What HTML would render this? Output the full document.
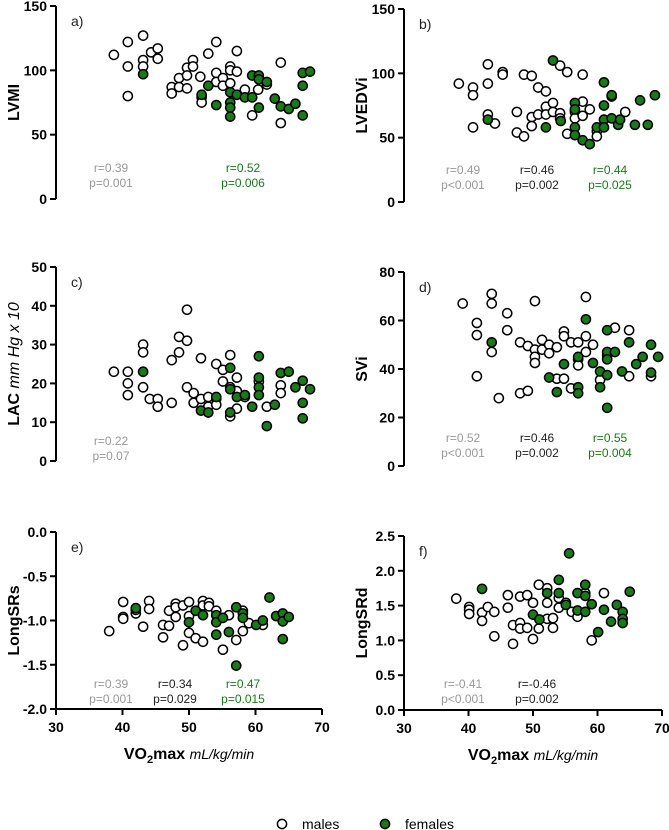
<!DOCTYPE html>
<html><head><meta charset="utf-8"><style>
body{margin:0;background:#fff;}
svg{display:block;font-family:"Liberation Sans",Arial,sans-serif;}
.tk{font-size:14px;font-weight:bold;fill:#000;}
.yt{font-size:16px;font-weight:bold;fill:#000;}
.pl{font-size:14px;fill:#222;}
.st{font-size:12px;}
</style></head><body>
<svg id="chart" width="669" height="830" viewBox="0 0 669 830"></svg>
<script>
const xTicks=[30,40,50,60,70];
const aMX=[38.7,40.8,40.8,40.8,43.1,43.1,43.1,44.3,45.3,45.3,47.4,47.4,48.5,48.5,49.7,49.7,49.7,50.6,50.6,51.7,51.9,51.9,52.9,54.1,54.1,54.1,55.1,55.1,56.2,56.2,56.2,57.2,57.2,58.4,59.5,60.4,61.7,63.8,63.8];
const aMY=[112,122,103,80,127,108,103,114,117,109,87,82,94,87,102,96,86,108,103,95,79,75,113,122,98,91,94,88,103,100,90,115,99,85,65,85,89,106,59];
const aFX=[43.1,52.9,51.9,54.1,56.2,56.2,56.2,56.2,57.2,58.4,59.5,59.5,60.5,60.5,60.5,61.7,62.9,63.8,65.0,66.0,67.1,68.2,67.1,67.1];
const aFY=[97,88,81,73,83,75,71,64,81,79,96,79,96,93,71,91,78,72,70,74,98,99,88,65];
const bMX=[38.5,40.7,40.7,40.7,43.0,43.0,43.0,44.1,45.3,45.3,47.5,47.5,48.6,48.6,49.8,49.8,49.8,50.8,50.8,52.0,52.0,52.0,53.1,53.1,54.2,54.2,54.2,55.3,55.3,56.5,56.5,57.7,57.7,57.7,58.8,59.9,59.9,62.2,64.3];
const bMY=[92,89,83,58,107,92,68,61,101,99,70,54,99,51,98,66,59,89,68,86,74,68,77,70,69,65,106,101,53,70,65,99,78,67,72,55,51,82,70];
const bFX=[53.1,43.0,52.0,54.3,56.5,56.5,56.5,56.5,57.7,58.8,59.9,61.0,61.0,61.0,61.0,62.2,63.2,62.2,65.8,66.6,67.8,68.9,63.5];
const bFY=[110,64,58,63,77,72,58,52,48,45,58,93,75,64,58,65,60,83,60,79,60,83,64];
const cMX=[38.7,40.8,40.8,40.8,43.1,43.1,43.1,44.1,45.3,45.3,47.4,47.4,48.5,48.5,49.7,49.7,49.7,50.7,50.7,51.8,51.8,52.9,52.9,54.1,54.1,54.1,55.1,55.1,56.2,56.2,56.2,57.2,57.2,57.2,58.4,60.5,61.7,63.8,63.8];
const cMY=[23,23,20,17,30,28,19,16,16,14,15,26,28,32,39,31,19,17.5,15,26.5,16,16.5,14,25,16,14.5,23.5,20.5,27.3,19,11.5,21.5,18,13.5,16.5,20.5,14,19.5,17.5];
const cFX=[43.1,51.8,52.9,54.1,56.2,56.2,56.2,57.2,58.4,59.5,60.5,60.5,60.5,60.5,61.7,62.9,63.8,65.0,66.0,67.1,67.1,67.1,68.2];
const cFY=[23,13,12.5,16.5,24,18.5,12.5,16.5,17,14,27,21.5,19,17,9,14.5,22.7,23,19,20.7,15,11,18.5];
const dMX=[39.1,41.3,41.3,41.3,43.6,43.6,43.6,44.7,46.0,46.0,48.0,48.0,49.2,49.2,50.3,50.3,50.3,50.3,51.4,51.4,52.5,52.5,53.7,53.7,54.8,54.8,54.8,55.9,55.9,57.0,57.0,57.0,58.2,58.2,58.2,59.3,60.4,61.5,62.7,64.9,64.9,68.3];
const dMY=[67,59,54,37,71,67,47,28,63,56,51,30,49.5,31,68,48,45,42.5,52,48,50,46.5,49,36,55.5,53.5,36,51,32,51,44,41.5,69.7,53.5,47,50,35.5,45.5,57,56,37,37];
const dFX=[43.6,52.5,53.7,54.8,57.0,57.0,57.0,58.2,59.3,60.4,60.4,61.5,61.5,61.5,61.5,61.5,62.7,63.8,64.9,66.0,67.0,68.3,68.3,69.4];
const dFY=[51,36.5,30.5,42,45,32.5,30,60.5,42.5,39,32.5,56,47,44,37.5,24,47,39,51,42,45,50,38.5,45];
const eMX=[38.0,40.1,40.1,40.1,42.0,42.0,43.1,44.0,44.0,46.1,46.1,47.0,47.0,48.0,48.0,48.0,49.1,49.1,50.0,50.0,50.0,51.0,52.1,52.1,52.1,53.0,53.0,54.1,55.1,56.0,57.1,58.1,58.1,59.0,61.1];
const eMY=[-1.12,-0.79,-0.96,-0.98,-0.92,-0.88,-1.07,-0.78,-0.87,-1.05,-1.19,-0.89,-1.06,-0.81,-0.85,-0.96,-1.28,-0.83,-0.79,-0.95,-1.14,-1.2,-0.78,-0.83,-1.24,-0.80,-0.84,-0.89,-1.33,-0.94,-1.22,-0.89,-1.12,-1.03,-1.05];
const eFX=[42.0,50.0,51.0,52.1,54.1,54.1,54.1,55.1,56.0,57.1,57.1,58.1,58.1,60.1,61.1,62.1,63.1,64.1,64.1,64.1,65.0];
const eFY=[-0.86,-1.02,-0.89,-0.94,-0.94,-1.02,-1.16,-0.97,-1.13,-0.85,-1.51,-0.92,-0.97,-1.05,-1.00,-0.74,-0.95,-0.92,-1.01,-1.21,-0.96];
const fMX=[38.1,40.1,40.1,40.1,42.1,42.1,43.0,44.0,44.0,46.1,46.1,46.9,46.9,48.0,48.0,48.0,49.1,49.1,50.0,50.0,50.9,50.9,52.2,52.2,52.2,53.1,53.1,54.0,54.0,55.1,56.0,56.9,58.1,59.1,61.0];
const fMY=[1.6,1.48,1.44,1.38,1.40,1.28,1.48,1.41,1.06,1.65,1.47,1.22,0.95,1.63,1.25,1.17,1.65,1.18,1.54,1.02,1.80,1.17,1.75,1.54,1.31,1.32,1.18,1.61,1.47,1.54,1.41,1.34,1.68,1.0,1.68];
const fFX=[42.1,50.0,51.0,52.2,54.0,54.0,55.1,56.9,56.9,58.1,58.1,58.1,59.1,60.1,61.0,62.1,63.0,63.9,63.9,63.9,65.0,55.6];
const fFY=[1.74,1.37,1.30,1.68,1.87,1.68,1.51,1.68,1.43,1.80,1.64,1.41,1.52,1.12,1.44,1.27,1.51,1.41,1.31,1.25,1.70,2.25];

const NS="http://www.w3.org/2000/svg";
const svg=document.getElementById('chart');
const GREEN="#1a7a1a";
function mk(tag,attrs,parent,text){const e=document.createElementNS(NS,tag);for(const k in attrs)e.setAttribute(k,attrs[k]);if(text!==undefined)e.textContent=text;(parent||svg).appendChild(e);return e;}

function panel(p){
  const g=mk('g',{});
  
  
  const xs=v=>p.x0+(v-30)/40*(p.x1-p.x0);
  const ys=v=>p.yb-(v-p.ymin)/(p.ymax-p.ymin)*(p.yb-p.yt);
  const ax=mk('line',{x1:p.x0,y1:p.yt,x2:p.x0,y2:p.yb,stroke:'#000','stroke-width':2},g);
  
  
  p.yticks.forEach((t,i)=>{
    mk('line',{x1:p.x0-6,y1:ys(t),x2:p.x0,y2:ys(t),stroke:'#000','stroke-width':2},g);
    const tl=mk('text',{x:p.x0-9,y:ys(t)+5,'text-anchor':'end',class:'tk'},g,p.ylabels[i]);
    
    
  });
  if(p.xaxis){
    const xa=mk('line',{x1:p.x0-1,y1:p.yb,x2:p.x1,y2:p.yb,stroke:'#000','stroke-width':2},g);
    
    
    xTicks.forEach(t=>{
      mk('line',{x1:xs(t),y1:p.yb,x2:xs(t),y2:p.yb+6,stroke:'#000','stroke-width':2},g);
      const xl=mk('text',{x:xs(t),y:p.yb+23,'text-anchor':'middle',class:'tk'},g,String(t));
      
      
    });
    const xt=mk('text',{x:(p.x0+p.x1)/2,y:p.yb+50,'text-anchor':'middle',class:'yt'},g);
    
    
    xt.innerHTML='VO<tspan dy="4" font-size="11">2</tspan><tspan dy="-4">max </tspan><tspan font-style="italic" font-weight="normal" font-size="14">mL/kg/min</tspan>';
  }
  const yt=mk('text',{transform:`translate(${p.x0-37},${(p.yt+p.yb)/2}) rotate(-90)`,'text-anchor':'middle',class:'yt'},g);
  
  
  yt.innerHTML=p.ytitle;
  const lab=mk('text',{x:p.x0+15,y:p.yt+20,class:'pl'},g,p.id+')');
  
  
  function pts(X,Y,fill,name){
    X.forEach((v,i)=>{
      const c=mk('circle',{cx:xs(v),cy:ys(Y[i]),r:4.6,fill:fill,stroke:'#000','stroke-width':1.5},g);
      
      
    });
  }
  pts(p.mx,p.my,'#fff','male-point');
  pts(p.fx,p.fy,GREEN,'female-point');
  p.stats.forEach(s=>{
    const t1=mk('text',{x:s[0],y:p.statY,'text-anchor':'middle',class:'st',fill:s[3]},g,s[1]);
    
    
    const t2=mk('text',{x:s[0],y:p.statY+15,'text-anchor':'middle',class:'st',fill:s[3]},g,s[2]);
    
    
  });
}
const GR='#999',BK='#222';
panel({id:'a',x0:56,x1:322,yt:6,yb:199,ymin:0,ymax:150,yticks:[0,50,100,150],ylabels:['0','50','100','150'],ytitle:'LVMI',mx:aMX,my:aMY,fx:aFX,fy:aFY,statY:172,stats:[[111,'r=0.39','p=0.001',GR],[243,'r=0.52','p=0.006',GREEN]]});
panel({id:'b',x0:404,x1:662,yt:9,yb:202,ymin:0,ymax:150,yticks:[0,50,100,150],ylabels:['0','50','100','150'],ytitle:'LVEDVi',mx:bMX,my:bMY,fx:bFX,fy:bFY,statY:174,stats:[[463,'r=0.49','p<0.001',GR],[537,'r=0.46','p=0.002',BK],[610,'r=0.44','p=0.025',GREEN]]});
panel({id:'c',x0:56,x1:322,yt:267,yb:461,ymin:0,ymax:50,yticks:[0,10,20,30,40,50],ylabels:['0','10','20','30','40','50'],ytitle:'LAC <tspan font-style="italic" font-weight="normal">mm Hg x 10</tspan>',mx:cMX,my:cMY,fx:cFX,fy:cFY,statY:445,stats:[[111,'r=0.22','p=0.07',GR]]});
panel({id:'d',x0:404,x1:662,yt:272,yb:466,ymin:0,ymax:80,yticks:[0,20,40,60,80],ylabels:['0','20','40','60','80'],ytitle:'SVi',mx:dMX,my:dMY,fx:dFX,fy:dFY,statY:442,stats:[[463,'r=0.52','p<0.001',GR],[537,'r=0.46','p=0.002',BK],[610,'r=0.55','p=0.004',GREEN]]});
panel({id:'e',xaxis:true,x0:56,x1:322,yt:532,yb:709,ymin:-2,ymax:0,yticks:[-2,-1.5,-1,-0.5,0],ylabels:['-2.0','-1.5','-1.0','-0.5','0.0'],ytitle:'LongSRs',mx:eMX,my:eMY,fx:eFX,fy:eFY,statY:688,stats:[[111,'r=0.39','p=0.001',GR],[175,'r=0.34','p=0.029',BK],[243,'r=0.47','p=0.015',GREEN]]});
panel({id:'f',xaxis:true,x0:404,x1:662,yt:536,yb:710,ymin:0,ymax:2.5,yticks:[0,0.5,1,1.5,2,2.5],ylabels:['0.0','0.5','1.0','1.5','2.0','2.5'],ytitle:'LongSRd',mx:fMX,my:fMY,fx:fFX,fy:fFY,statY:688,stats:[[463,'r=-0.41','p<0.001',GR],[537,'r=-0.46','p=0.002',BK]]});

const lg=mk('g',{});


const l1=mk('circle',{cx:282,cy:824,r:4.6,fill:'#fff',stroke:'#000','stroke-width':1.5},lg);


const l2=mk('text',{x:302,y:829,'font-size':14,fill:'#000'},lg,'males');


const l3=mk('circle',{cx:385,cy:824,r:4.6,fill:GREEN,stroke:'#000','stroke-width':1.5},lg);


const l4=mk('text',{x:405,y:829,'font-size':14,fill:'#000'},lg,'females');


</script>
</body></html>
